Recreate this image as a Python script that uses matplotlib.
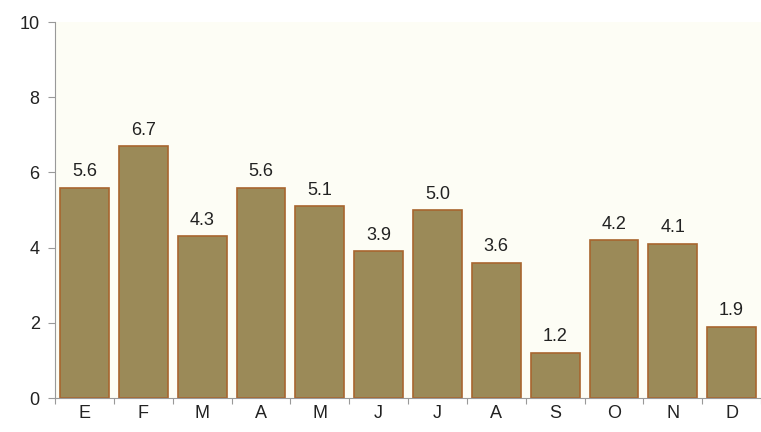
import numpy as np
import matplotlib
matplotlib.use("Agg")
import matplotlib.pyplot as plt

plt.rcParams["font.family"] = ["Liberation Sans", "DejaVu Sans"]

months = ["E", "F", "M", "A", "M", "J", "J", "A", "S", "O", "N", "D"]
values = [5.6, 6.7, 4.3, 5.6, 5.1, 3.9, 5.0, 3.6, 1.2, 4.2, 4.1, 1.9]

fig = plt.figure(figsize=(7.61, 4.32), dpi=100)
ax = fig.add_axes([0.0723, 0.0787, 0.9277, 0.870])
ax.set_facecolor("#fdfdf5")

x = np.arange(len(months))
bars = ax.bar(x, values, width=0.83, color="#9b8a58", edgecolor="#a8652e", linewidth=1.2)
for xi, v in zip(x, values):
    ax.text(xi, v + 0.2, f"{v:.1f}", ha="center", va="bottom", fontsize=13, color="#222222")

ax.set_xlim(-0.5, len(months) - 0.5)
ax.set_ylim(0, 10)
ax.set_yticks([0, 2, 4, 6, 8, 10])

# tick marks between categories, labels centred under bars
ax.set_xticks(np.arange(len(months) + 1) - 0.5)
ax.set_xticklabels([])
ax.set_xticks(x, minor=True)
ax.set_xticklabels(months, minor=True)
ax.tick_params(axis="x", which="minor", length=0, pad=5, labelsize=13, labelcolor="#222222")
ax.tick_params(axis="x", which="major", length=4, color="#999999")
ax.tick_params(axis="y", length=5, color="#999999", labelsize=13, pad=6, labelcolor="#222222")

for side in ["top", "right"]:
    ax.spines[side].set_visible(False)
for side in ["left", "bottom"]:
    ax.spines[side].set_color("#999999")

fig.savefig("out.png", dpi=100)
